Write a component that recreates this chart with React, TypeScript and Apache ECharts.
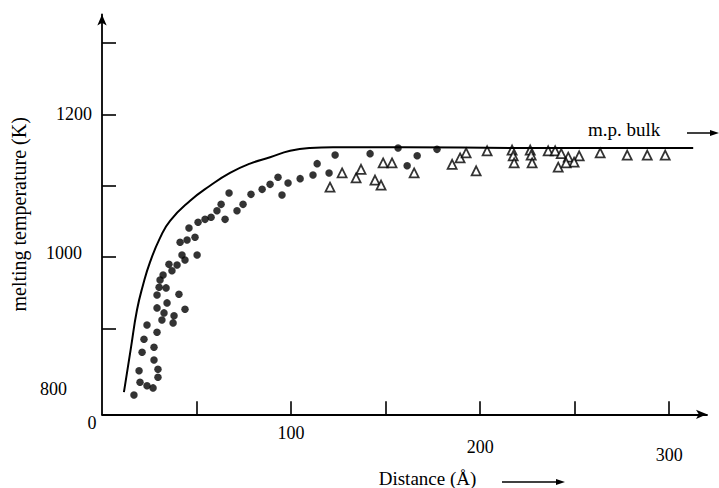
import React, { useEffect, useRef } from "react";
import * as echarts from "echarts";

// Theoretical curve (distance in Å, melting temperature in K)
const curveX = [11.6, 15.3, 18.5, 21.7, 25.4, 30.7, 36, 46.6, 57.1, 67.7, 78.3, 88.9, 99.5, 110, 122.2, 160, 220, 312.7];
const curveT = [811, 873, 926, 961, 993, 1027, 1051, 1079, 1100, 1118, 1131, 1140, 1149, 1153, 1154, 1154, 1153, 1153];

// Filled circles
const dotX = [123.3, 113.8, 120.1, 111.6, 104.8, 98.4, 93.1, 88.9, 84.7, 95.2, 78.8, 74.6, 71.4, 67.2, 63, 60.8, 65.1, 57.7, 54.5, 50.8, 46, 49.2, 45, 41.3, 50.3, 42.3, 43.9, 39.7, 35.4, 37, 32.3, 30.7, 33.9, 30.2, 29.1, 40.7, 34.4, 29.1, 43.9, 32.8, 38.1, 31.7, 37.6, 23.8, 29.1, 22.2, 27.5, 21.2, 27.5, 29.6, 19.6, 29.6, 20.1, 23.8, 27, 16.9, 141.8, 156.6, 166.7, 161.4, 177.2];
const dotT = [1143, 1131, 1118, 1115, 1110, 1104, 1112, 1102, 1095, 1087, 1088, 1074, 1065, 1090, 1074, 1065, 1053, 1056, 1053, 1049, 1041, 1028, 1024, 1021, 1003, 1003, 996, 989, 990, 981, 975, 968, 957, 958, 947, 948, 936, 929, 927, 922, 918, 912, 908, 905, 895, 885, 874, 867, 856, 843, 841, 832, 825, 820, 817, 807, 1145, 1153, 1142, 1128, 1151];

// Open triangles
const triX = [120.6, 127, 134.4, 137, 144.4, 147.6, 148.7, 153.4, 165.1, 185.2, 189.4, 192.6, 197.9, 203.7, 216.9, 217.5, 218, 226.5, 227, 227.5, 236, 239.7, 242.9, 246.6, 252.4, 249.7, 245.5, 241.3, 263.5, 277.8, 288.4, 297.9];
const triT = [1098, 1118, 1111, 1123, 1108, 1101, 1132, 1132, 1118, 1130, 1139, 1146, 1121, 1149, 1150, 1142, 1132, 1150, 1143, 1132, 1149, 1149, 1145, 1140, 1142, 1133, 1132, 1126, 1146, 1143, 1143, 1143];

const xTicks = [50, 100, 150, 200, 250, 300];
const xLabels = [0, 100, 200, 300];
const yTicks = [900, 1000, 1100, 1200, 1300];
const yLabels = [800, 1000, 1200];

const FONT = '"Liberation Serif", "DejaVu Serif", serif';

function zip(a: number[], b: number[]) {
  return a.map((v, i) => [v, b[i]]);
}

export default function App() {
  const ref = useRef<HTMLDivElement>(null);
  useEffect(() => {
    if (!ref.current) return;
    const chart = echarts.init(ref.current, undefined, { renderer: "svg" });
    const lbl = { color: "#000", fontFamily: FONT, fontSize: 18 };
    chart.setOption({
      animation: false,
      backgroundColor: "#ffffff",
      grid: { left: 102, right: 12, top: 14.4, bottom: 73.7, containLabel: false, outerBoundsMode: "none" },
      xAxis: {
        type: "value",
        min: 0,
        max: 320,
        splitLine: { show: false },
        axisLine: { show: true, onZero: false, lineStyle: { color: "#000", width: 1.8 }, symbol: ["none", "arrow"], symbolSize: [7, 11] },
        axisTick: { show: true, inside: true, length: 13, lineStyle: { color: "#000", width: 1.6 }, customValues: xTicks },
        axisLabel: {
          customValues: xLabels,
          margin: 0,
          ...lbl,
          formatter: (v: number) => `{x${Math.round(v)}|${v}}`,
          rich: {
            x0: { ...lbl, padding: [0, 20, 0, 0] },
            x100: { ...lbl, padding: [10, 0, 0, 0] },
            x200: { ...lbl, padding: [24, 0, 0, 0] },
            x300: { ...lbl, padding: [32, 0, 0, 0] },
          },
        },
        name: "Distance (Å)",
        nameLocation: "middle",
        nameGap: 51,
        nameTextStyle: { color: "#000", fontFamily: FONT, fontSize: 19, padding: [0, 0, 0, 46] },
      },
      yAxis: {
        type: "value",
        min: 780,
        max: 1340,
        splitLine: { show: false },
        axisLine: { show: true, onZero: false, lineStyle: { color: "#000", width: 1.8 }, symbol: ["none", "arrow"], symbolSize: [7, 11] },
        axisTick: { show: true, inside: true, length: 14, lineStyle: { color: "#000", width: 1.6 }, customValues: yTicks },
        axisLabel: {
          customValues: yLabels,
          margin: 10,
          ...lbl,
          formatter: (v: number) => `{y${Math.round(v)}|${v}}`,
          rich: {
            y800: { ...lbl, padding: [0, 25, 22, 0] },
            y1000: { ...lbl, padding: [0, 10, 8, 0] },
            y1200: { ...lbl, padding: [0, 0, 0, 0] },
          },
        },
        name: "melting temperature (K)",
        nameLocation: "middle",
        nameRotate: 90,
        nameGap: 72,
        nameTextStyle: { color: "#000", fontFamily: FONT, fontSize: 20 },
      },
      graphic: [
        { type: "text", left: 588, top: 120, style: { text: "m.p. bulk", fill: "#000", font: `19px ${FONT}` } },
        { type: "line", shape: { x1: 687, y1: 133, x2: 714, y2: 133 }, style: { stroke: "#000", lineWidth: 1.5 } },
        { type: "polygon", shape: { points: [[719, 133], [710, 130], [710, 136]] }, style: { fill: "#000" } },
        { type: "line", shape: { x1: 502, y1: 482, x2: 558, y2: 482 }, style: { stroke: "#000", lineWidth: 1.5 } },
        { type: "polygon", shape: { points: [[565, 482], [556, 479], [556, 485]] }, style: { fill: "#000" } },
      ],
      series: [
        {
          type: "line",
          data: zip(curveX, curveT),
          smooth: 0.5,
          showSymbol: false,
          lineStyle: { color: "#000", width: 2 },
          silent: true,
        },
        {
          type: "scatter",
          data: zip(dotX, dotT),
          symbol: "circle",
          symbolSize: 7.5,
          itemStyle: { color: "#000" },
        },
        {
          type: "scatter",
          data: zip(triX, triT),
          symbol: "triangle",
          symbolSize: 9,
          itemStyle: { color: "#fff", borderColor: "#000", borderWidth: 1.8 },
        },
      ],
    });
    return () => chart.dispose();
  }, []);
  return <div ref={ref} style={{ width: 719, height: 488, position: "fixed", left: 0, top: 0 }} />;
}
